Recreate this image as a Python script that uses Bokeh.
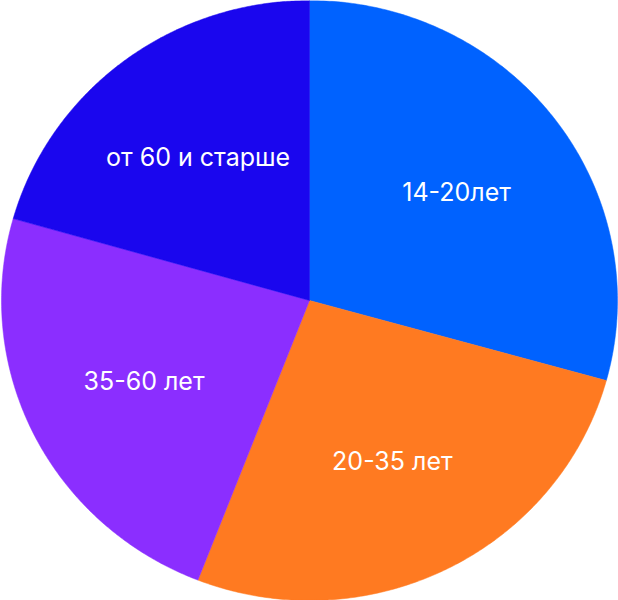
import numpy as np
from bokeh.plotting import figure
from bokeh.models import ColumnDataSource, Range1d
from bokeh.core.properties import value
from bokeh.embed import file_html
from bokeh.resources import INLINE

categories = ["14-20лет", "20-35 лет", "35-60 лет", "от 60 и старше"]
values = [29.3, 26.6, 23.5, 20.6]
colors = ["#0062FF", "#FF7A21", "#8B2EFF", "#1A06EE"]

W, H = 618, 600
p = figure(width=W, height=H, output_backend="svg", toolbar_location=None,
           x_range=Range1d(-309 / 308, 309 / 308), y_range=Range1d(-1, 1),
           min_border=0, outline_line_color=None, background_fill_color="white",
           border_fill_color="white")
p.axis.visible = False
p.grid.visible = False

total = sum(values)
fracs = np.cumsum([0] + values) / total
start_angles = np.pi / 2 - 2 * np.pi * fracs[:-1]
end_angles = np.pi / 2 - 2 * np.pi * fracs[1:]

xs, ys, lx, ly = [], [], [], []
for a0, a1 in zip(start_angles, end_angles):
    t = np.linspace(a0, a1, 200)
    xs.append([0.0] + list(np.cos(t)) + [0.0])
    ys.append([0.0] + list(np.sin(t)) + [0.0])
    m = (a0 + a1) / 2
    lx.append(0.6 * np.cos(m))
    ly.append(0.6 * np.sin(m))

src = ColumnDataSource(dict(xs=xs, ys=ys, color=colors, label=categories, lx=lx, ly=ly))
p.patches("xs", "ys", fill_color="color", line_color="color", line_width=0.5, source=src)
p.text("lx", "ly", text="label", source=src, text_color="white",
       text_font=value("Inter"), text_font_size="25px",
       text_align="center", text_baseline="middle")

open("out.html", "w").write(file_html(p, INLINE))
